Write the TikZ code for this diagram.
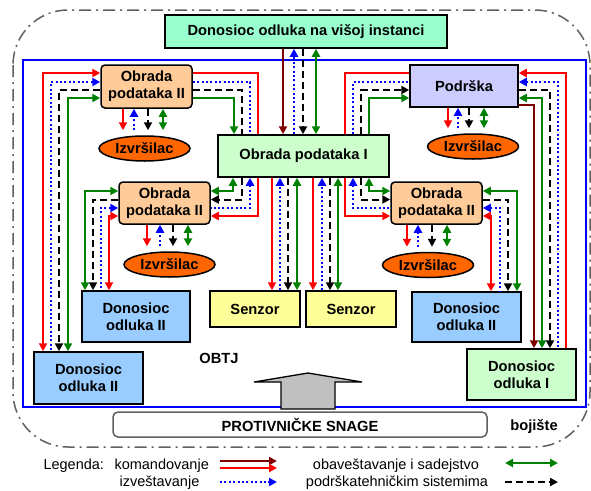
\documentclass[tikz,border=0pt]{standalone}
\usepackage{fontspec}
\setmainfont{Liberation Sans}
\usetikzlibrary{arrows.meta,shapes.geometric}
\definecolor{mint}{HTML}{99FFCC}
\definecolor{peach}{HTML}{FFCC99}
\definecolor{lgreen}{HTML}{CCFFCC}
\definecolor{lavender}{HTML}{CCCCFF}
\definecolor{lyellow}{HTML}{FFFF99}
\definecolor{lblue}{HTML}{99CCFF}
\definecolor{orng}{HTML}{FF6600}
\definecolor{dgreen}{HTML}{008000}
\definecolor{dred}{HTML}{800000}
\definecolor{dgray}{HTML}{606060}
\tikzset{
    box/.style={draw, line width=1.5pt, align=center, inner sep=2pt,
        font=\bfseries\fontsize{14.7}{17}\selectfont},
    rbox/.style={box, rounded corners=4pt},
    izvr/.style={box, ellipse, fill=orng, minimum width=91, minimum height=25, inner sep=0pt},
    lbl/.style={font=\bfseries\fontsize{14.7}{17}\selectfont},
    leg/.style={font=\fontsize{14.5}{17}\selectfont},
    kom/.style={red, line width=2pt},
    kmd/.style={dred, line width=2pt},
    izv/.style={blue, line width=2pt, dash pattern=on 2pt off 2.4pt},
    oba/.style={dgreen, line width=2pt},
    pts/.style={black, line width=2pt, dash pattern=on 7pt off 4pt},
    >={Triangle[length=8pt,width=8pt]}
}
\begin{document}
\begin{tikzpicture}
    [x=1pt,y=-1pt]
    \useasboundingbox (0,0) rectangle (591,490);
    %bojiste and OBTJ
    \draw[dgray, line width=1.5pt, dash pattern=on 12pt off 5pt on 2pt off 5pt, rounded corners=55pt] (13,10) rectangle (590,447);
    \draw[blue, line width=2pt] (23,60) rectangle (586,407);
    %big arrow
    \draw[fill={rgb,255:red,192;green,192;blue,192}, line width=1.3pt] (281,409)--(281,382)--(254,382)--(308,373)--(362,382)--(335,382)--(335,409)--cycle;
    %boxes
    \node[box, fill=mint, minimum width=282, minimum height=33] (dovi) at (306,31.5) {Donosioc odluka na višoj instanci};
    \node[box, fill=lgreen, minimum width=171, minimum height=42] (op1) at (303.5,156) {Obrada podataka I};
    \node[rbox, fill=peach, minimum width=91, minimum height=43] (op2a) at (146.5,86.5) {Obrada\\podataka II};
    \node[rbox, fill=peach, minimum width=91, minimum height=42] (op2b) at (164.5,203) {Obrada\\podataka II};
    \node[rbox, fill=peach, minimum width=91, minimum height=42] (op2c) at (436.5,203) {Obrada\\podataka II};
    \node[box, fill=lavender, minimum width=108, minimum height=42] (pod) at (464,86) {Podrška};
    \node[izvr] (iz1) at (144.5,148.5) {Izvršilac};
    \node[izvr] (iz2) at (473,146.5) {Izvršilac};
    \node[izvr] (iz3) at (169.5,264.5) {Izvršilac};
    \node[izvr] (iz4) at (428,265) {Izvršilac};
    \node[box, fill=lyellow, minimum width=90, minimum height=36] (sen1) at (255,309) {Senzor};
    \node[box, fill=lyellow, minimum width=90, minimum height=36] (sen2) at (351,309) {Senzor};
    \node[box, fill=lblue, minimum width=108, minimum height=51] (do2a) at (136,316.5) {Donosioc\\odluka II};
    \node[box, fill=lblue, minimum width=109, minimum height=52] (do2b) at (88.5,378) {Donosioc\\odluka II};
    \node[box, fill=lblue, minimum width=109, minimum height=50] (do2c) at (466.5,317) {Donosioc\\odluka II};
    \node[box, fill=lgreen, minimum width=109, minimum height=51] (do1) at (521.5,374.5) {Donosioc\\odluka I};
    \node[box, draw=dgray, fill=white, rounded corners=5pt, minimum width=374, minimum height=25] (protiv) at (300,424.5) {PROTIVNIČKE SNAGE};
    \node[lbl] (obtj) at (219,358) {OBTJ};
    \node[lbl] (bojiste) at (534,427) {bojište};
    %visa instanca - obrada I
    \draw[kmd,->] (283,0 |- dovi.south) -- (283,0 |- op1.north);
    \draw[izv,->] (294,0 |- op1.north) -- (294,0 |- dovi.south);
    \draw[pts,->] (303,0 |- dovi.south) -- (303,0 |- op1.north);
    \draw[oba,<->] (316,0 |- dovi.south) -- (316,0 |- op1.north);
    %obrada II gore - obrada I
    \draw[kom] (op2a.east |- 0,73) -| (258,0 |- op1.north);
    \draw[izv] (op2a.east |- 0,82) -| (250,0 |- op1.north);
    \draw[pts] (op2a.east |- 0,90) -| (242,0 |- op1.north);
    \draw[oba,->] (op2a.east |- 0,98) -| (234,0 |- op1.north);
    %obrada II gore - donosioc II dole levo
    \draw[kom,<->] (op2a.west |- 0,73) -| (43,0 |- do2b.north);
    \draw[izv,<-] (op2a.west |- 0,82) -| (51,0 |- do2b.north);
    \draw[pts,->] (op2a.west |- 0,90) -| (59,0 |- do2b.north);
    \draw[oba,<->] (op2a.west |- 0,98) -| (68,0 |- do2b.north);
    %obrada I - obrada II levo
    \draw[oba,<->] (233,0 |- op1.south) |- (op2b.east |- 0,191);
    \draw[pts,->] (242,0 |- op1.south) |- (op2b.east |- 0,199.5);
    \draw[izv,<-] (250,0 |- op1.south) |- (op2b.east |- 0,208);
    \draw[kom,->] (258,0 |- op1.south) |- (op2b.east |- 0,216);
    %obrada II levo - donosioc II levo
    \draw[oba,<->] (op2b.west |- 0,191) -| (85,0 |- do2a.north);
    \draw[pts,->] (op2b.west |- 0,199.5) -| (93,0 |- do2a.north);
    \draw[izv,<-] (op2b.west |- 0,208) -| (101,0 |- do2a.north);
    \draw[kom,<->] (op2b.west |- 0,216) -| (109,0 |- do2a.north);
    %obrada I - senzori
    \draw[kom,->] (272,0 |- op1.south) -- (272,0 |- sen1.north);
    \draw[izv,->] (280,0 |- sen1.north) -- (280,0 |- op1.south);
    \draw[pts,->] (288,0 |- op1.south) -- (288,0 |- sen1.north);
    \draw[oba,<->] (297,0 |- op1.south) -- (297,0 |- sen1.north);
    \draw[kom,->] (313,0 |- op1.south) -- (313,0 |- sen2.north);
    \draw[izv,->] (322,0 |- sen2.north) -- (322,0 |- op1.south);
    \draw[pts,->] (330,0 |- op1.south) -- (330,0 |- sen2.north);
    \draw[oba,<->] (338,0 |- op1.south) -- (338,0 |- sen2.north);
    %obrada I - obrada II desno
    \draw[kom,->] (345,0 |- op1.south) |- (op2c.west |- 0,216);
    \draw[izv,<-] (353,0 |- op1.south) |- (op2c.west |- 0,208);
    \draw[pts,->] (361,0 |- op1.south) |- (op2c.west |- 0,199.5);
    \draw[oba,<->] (369,0 |- op1.south) |- (op2c.west |- 0,191);
    %obrada I - podrska
    \draw[kom] (345,0 |- op1.north) |- (pod.west |- 0,73);
    \draw[izv] (353,0 |- op1.north) |- (pod.west |- 0,82);
    \draw[pts,->] (361,0 |- op1.north) |- (pod.west |- 0,90);
    \draw[oba,->] (369,0 |- op1.north) |- (pod.west |- 0,98);
    %podrska - donosioc I
    \draw[kom,<-] (pod.east |- 0,73) -| (566,0 |- do1.north);
    \draw[izv,<-] (pod.east |- 0,82) -| (558,0 |- do1.north);
    \draw[pts,->] (pod.east |- 0,90) -| (550,0 |- do1.north);
    \draw[oba,<->] (pod.east |- 0,98) -| (542,0 |- do1.north);
    \draw[kmd,->] (pod.east |- 0,105) -| (534,0 |- do1.north);
    %obrada II desno - donosioc II desno
    \draw[oba,<->] (op2c.east |- 0,191) -| (517,0 |- do2c.north);
    \draw[pts,->] (op2c.east |- 0,199.5) -| (508,0 |- do2c.north);
    \draw[izv,<-] (op2c.east |- 0,208) -| (500,0 |- do2c.north);
    \draw[kom,<->] (op2c.east |- 0,216) -| (491,0 |- do2c.north);
    %izvrsioci
    \draw[kom,->,shorten >=5pt] (123,0 |- op2a.south) -- (123,0 |- iz1.north);
    \draw[izv,->,shorten <=5pt] (134,0 |- iz1.north) -- (134,0 |- op2a.south);
    \draw[pts,->,shorten >=5pt] (148,0 |- op2a.south) -- (148,0 |- iz1.north);
    \draw[oba,<->,shorten >=5pt] (163,0 |- op2a.south) -- (163,0 |- iz1.north);
    \draw[kom,->,shorten >=5pt] (448,0 |- pod.south) -- (448,0 |- iz2.north);
    \draw[izv,->,shorten <=5pt] (458,0 |- iz2.north) -- (458,0 |- pod.south);
    \draw[pts,->,shorten >=5pt] (469,0 |- pod.south) -- (469,0 |- iz2.north);
    \draw[oba,<->,shorten >=5pt] (484,0 |- pod.south) -- (484,0 |- iz2.north);
    \draw[kom,->,shorten >=5pt] (147,0 |- op2b.south) -- (147,0 |- iz3.north);
    \draw[izv,->,shorten <=5pt] (160,0 |- iz3.north) -- (160,0 |- op2b.south);
    \draw[pts,->,shorten >=5pt] (173,0 |- op2b.south) -- (173,0 |- iz3.north);
    \draw[oba,<->,shorten >=5pt] (188,0 |- op2b.south) -- (188,0 |- iz3.north);
    \draw[kom,->,shorten >=5pt] (407,0 |- op2c.south) -- (407,0 |- iz4.north);
    \draw[izv,->,shorten <=5pt] (418,0 |- iz4.north) -- (418,0 |- op2c.south);
    \draw[pts,->,shorten >=5pt] (432,0 |- op2c.south) -- (432,0 |- iz4.north);
    \draw[oba,<->,shorten >=5pt] (447,0 |- op2c.south) -- (447,0 |- iz4.north);
    %legenda
    \node[leg, anchor=west] (legenda) at (40,466) {Legenda:};
    \node[leg, anchor=west] (lkom) at (111,466) {komandovanje};
    \node[leg, anchor=west] (lizv) at (116,483) {izveštavanje};
    \node[leg] (loba) at (396,466) {obaveštavanje i sadejstvo};
    \node[leg] (lpts) at (397,483) {podrškatehničkim sistemima};
    \coordinate (k1a) at (220,461); \coordinate (k1b) at (277,461);
    \coordinate (k2a) at (220,468); \coordinate (k2b) at (277,468);
    \coordinate (k3a) at (220,482); \coordinate (k3b) at (277,482);
    \coordinate (k4a) at (505,463); \coordinate (k4b) at (558,463);
    \coordinate (k5a) at (505,482); \coordinate (k5b) at (558,482);
    \draw[kmd,->] (k1a) -- (k1b);
    \draw[kom,->] (k2a) -- (k2b);
    \draw[izv,->] (k3a) -- (k3b);
    \draw[oba,<->] (k4a) -- (k4b);
    \draw[pts,->] (k5a) -- (k5b);
\end{tikzpicture}
\end{document}
